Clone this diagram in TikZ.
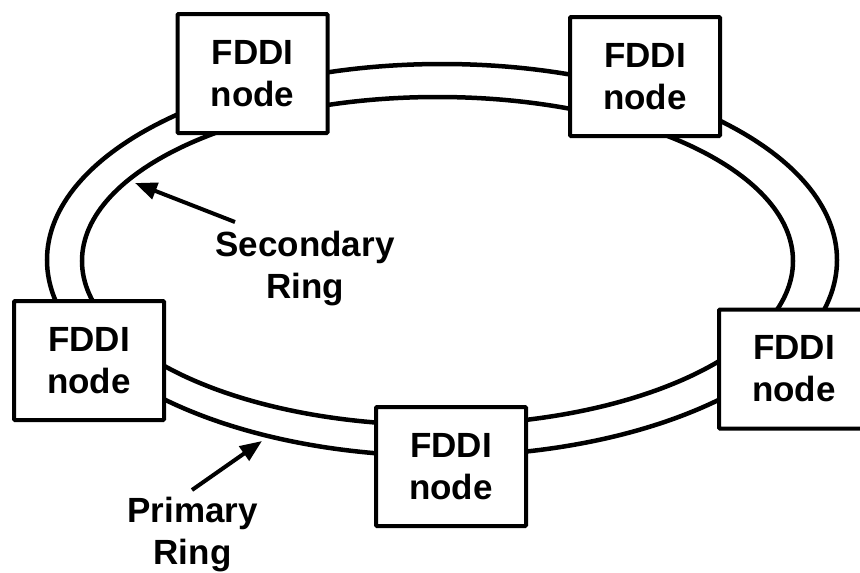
\documentclass[tikz,border=0pt]{standalone}
\usepackage{fontspec}
\setmainfont{Liberation Sans}
\usetikzlibrary{arrows.meta}

\tikzset{
  ringline/.style={line width=4.5pt},
  fddibox/.style={draw, fill=white, line width=4pt, rounded corners=1pt,
    minimum width=150pt, minimum height=119pt, inner sep=0pt, align=center,
    font=\bfseries\fontsize{35}{42}\selectfont},
  ringlabel/.style={align=center, inner sep=0pt,
    font=\bfseries\fontsize{35}{42}\selectfont},
  pointer/.style={line width=4pt, -{Triangle[length=22pt, width=17pt]}}
}

\begin{document}
\begin{tikzpicture}[x=1pt, y=-1pt]
  % page frame; the right-hand station runs past the edge
  \clip (0,0) rectangle (860,573);
  \fill[white] (0,0) rectangle (860,573);

  % dual counter-rotating ring
  \draw[ringline] (442,260) ellipse [x radius=395, y radius=196];
  \draw[ringline] (437.5,261) ellipse [x radius=355.5, y radius=164];

  % stations on the ring
  \node[fddibox] (n1) at (252.5,73.5) {FDDI\\node};
  \node[fddibox] (n2) at (645,76.5) {FDDI\\node};
  \node[fddibox] (n3) at (89,360.5) {FDDI\\node};
  \node[fddibox] (n4) at (451,466.5) {FDDI\\node};
  \node[fddibox] (n5) at (794,369) {FDDI\\node};

  % ring labels with pointers
  \node[ringlabel] (sec) at (305,269) {Secondary\\Ring};
  \node[ringlabel] (pri) at (192.5,535) {Primary\\Ring};

  \coordinate (sectail) at (235,222);
  \coordinate (sectip) at (135,183);
  \coordinate (pritail) at (192,490);
  \coordinate (pritip) at (262,441);

  \draw[pointer] (sectail) -- (sectip);
  \draw[pointer] (pritail) -- (pritip);
\end{tikzpicture}
\end{document}
